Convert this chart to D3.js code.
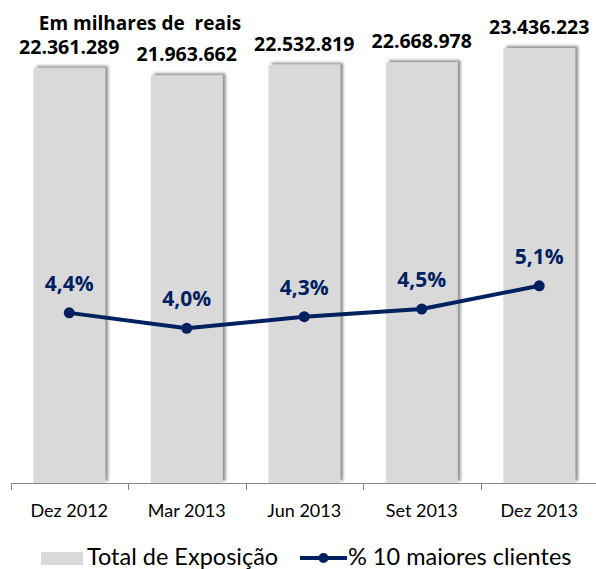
<!DOCTYPE html>
<html>
<head>
<meta charset="utf-8">
<script src="https://cdn.jsdelivr.net/npm/d3@7"></script>
<style>
  body { margin: 0; background: #fff; }
  svg { display: block; font-family: Lato, "Open Sans", sans-serif; }
  .bold { font-family: "Open Sans", Lato, sans-serif; font-weight: bold; }
</style>
</head>
<body>
<svg width="596" height="569"></svg>
<script>
// chart data
const periods = ['Dez 2012', 'Mar 2013', 'Jun 2013', 'Set 2013', 'Dez 2013'];
const exposure = [22361289, 21963662, 22532819, 22668978, 23436223];
const exposureLabels = ['22.361.289', '21.963.662', '22.532.819', '22.668.978', '23.436.223'];
const top10 = [4.4, 4.0, 4.3, 4.5, 5.1];
const top10Labels = ['4,4%', '4,0%', '4,3%', '4,5%', '5,1%'];

const barColor = '#d9d9d9';
const lineColor = '#002060';

const svg = d3.select('svg');

const defs = svg.append('defs');
defs.append('filter')
    .attr('id', 'shadow')
    .attr('x', '-20%').attr('y', '-20%')
    .attr('width', '140%').attr('height', '140%')
  .append('feDropShadow')
    .attr('dx', 3).attr('dy', -2)
    .attr('stdDeviation', 1.6)
    .attr('flood-color', '#000')
    .attr('flood-opacity', 0.45);

const axisY = 483;

const xScale = d3.scaleBand()
    .domain(periods)
    .range([10.5, 598])
    .paddingInner(0.39)
    .paddingOuter(0.195);

const yScale = d3.scaleLinear()
    .domain([0, 25000000])
    .range([axisY, 19]);

const pScale = d3.scaleLinear()
    .domain([0, 12])
    .range([axisY, 19]);

// bars
svg.append('g')
  .selectAll('rect')
  .data(exposure)
  .enter()
  .append('rect')
    .attr('x', (d, i) => xScale(periods[i]))
    .attr('y', d => yScale(d))
    .attr('width', xScale.bandwidth())
    .attr('height', d => axisY - yScale(d))
    .attr('fill', barColor)
    .attr('filter', 'url(#shadow)');

// bar value labels
svg.append('g')
  .selectAll('text')
  .data(exposure)
  .enter()
  .append('text')
    .attr('class', 'bold')
    .attr('x', (d, i) => xScale(periods[i]) + xScale.bandwidth() / 2)
    .attr('y', d => yScale(d) - 14)
    .attr('text-anchor', 'middle')
    .attr('font-size', 19.5)
    .attr('fill', '#000')
    .text((d, i) => exposureLabels[i]);

// x axis with ticks between categories
const tickPos = d3.range(periods.length + 1).map(i => 10.5 + i * xScale.step());
const axis = svg.append('g');
axis.append('line')
    .attr('x1', 10.5).attr('x2', 598)
    .attr('y1', axisY + 0.5).attr('y2', axisY + 0.5)
    .attr('stroke', '#868686');
axis.selectAll('.tick')
  .data(tickPos)
  .enter()
  .append('line')
    .attr('x1', d => Math.round(d) + 0.5)
    .attr('x2', d => Math.round(d) + 0.5)
    .attr('y1', axisY)
    .attr('y2', axisY + 7)
    .attr('stroke', '#868686');
axis.selectAll('text')
  .data(periods)
  .enter()
  .append('text')
    .attr('x', d => xScale(d) + xScale.bandwidth() / 2)
    .attr('y', 517)
    .attr('text-anchor', 'middle')
    .attr('font-size', 18)
    .attr('fill', '#000')
    .text(d => d);

// line series
const line = d3.line()
    .x((d, i) => xScale(periods[i]) + xScale.bandwidth() / 2)
    .y(d => pScale(d));

svg.append('path')
    .datum(top10)
    .attr('d', line)
    .attr('fill', 'none')
    .attr('stroke', lineColor)
    .attr('stroke-width', 4)
    .attr('stroke-linejoin', 'round');

svg.append('g')
  .selectAll('circle')
  .data(top10)
  .enter()
  .append('circle')
    .attr('cx', (d, i) => xScale(periods[i]) + xScale.bandwidth() / 2)
    .attr('cy', d => pScale(d))
    .attr('r', 5.5)
    .attr('fill', lineColor);

svg.append('g')
  .selectAll('text')
  .data(top10)
  .enter()
  .append('text')
    .attr('class', 'bold')
    .attr('x', (d, i) => xScale(periods[i]) + xScale.bandwidth() / 2)
    .attr('y', d => pScale(d) - 22)
    .attr('text-anchor', 'middle')
    .attr('font-size', 21)
    .attr('fill', lineColor)
    .text((d, i) => top10Labels[i]);

// title
svg.append('text')
    .attr('class', 'bold')
    .attr('x', 140)
    .attr('y', 30)
    .attr('text-anchor', 'middle')
    .attr('font-size', 19)
    .attr('fill', '#000')
    .attr('xml:space', 'preserve')
    .text('Em milhares de  reais');

// legend
const legend = svg.append('g');
legend.append('rect')
    .attr('x', 41).attr('y', 552)
    .attr('width', 42).attr('height', 13)
    .attr('fill', barColor);
legend.append('text')
    .attr('x', 87).attr('y', 565)
    .attr('font-size', 23.5)
    .attr('fill', '#000')
    .text('Total de Exposição');
legend.append('line')
    .attr('x1', 300).attr('x2', 347)
    .attr('y1', 558).attr('y2', 558)
    .attr('stroke', lineColor)
    .attr('stroke-width', 4);
legend.append('circle')
    .attr('cx', 323.5).attr('cy', 558)
    .attr('r', 5)
    .attr('fill', lineColor);
legend.append('text')
    .attr('x', 348).attr('y', 565)
    .attr('font-size', 23.5)
    .attr('fill', '#000')
    .text('% 10 maiores clientes');
</script>
</body>
</html>
